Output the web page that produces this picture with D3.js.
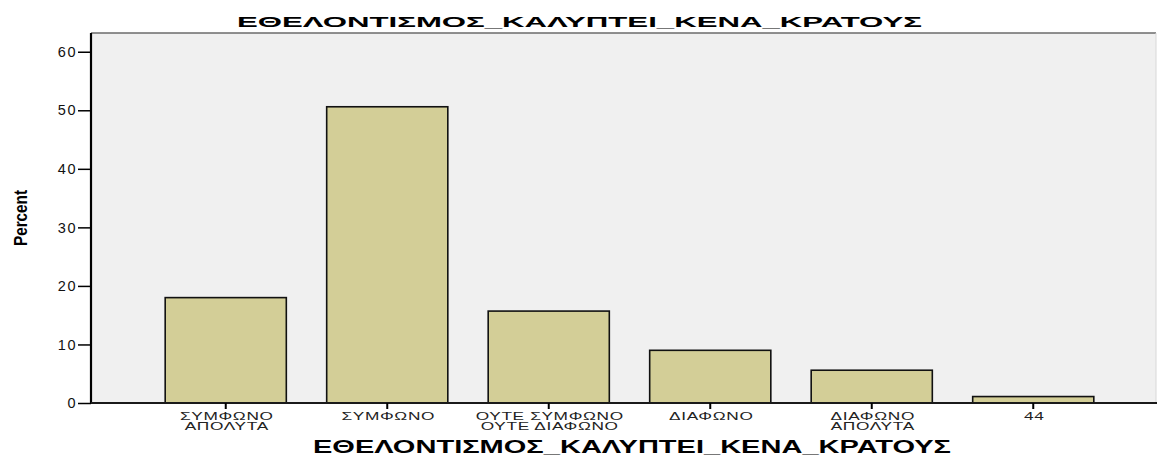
<!DOCTYPE html>
<html>
<head>
<meta charset="utf-8">
<script src="https://cdn.jsdelivr.net/npm/d3@7"></script>
<style>
  body { margin: 0; background: #fff; }
  text { font-family: "Liberation Sans", Arial, sans-serif; }
</style>
</head>
<body>
<svg id="chart" width="1157" height="457"></svg>
<script>
// chart values
const categories = [
    ["ΣΥΜΦΩΝΟ", "ΑΠΟΛΥΤΑ"],
    ["ΣΥΜΦΩΝΟ"],
    ["ΟΥΤΕ ΣΥΜΦΩΝΟ", "ΟΥΤΕ ΔΙΑΦΩΝΟ"],
    ["ΔΙΑΦΩΝΟ"],
    ["ΔΙΑΦΩΝΟ", "ΑΠΟΛΥΤΑ"],
    ["44"]
];
const percents = [18.0, 50.6, 15.7, 9.0, 5.6, 1.1];
const yTicks = [0, 10, 20, 30, 40, 50, 60];
const chartTitle = "ΕΘΕΛΟΝΤΙΣΜΟΣ_ΚΑΛΥΠΤΕΙ_ΚΕΝΑ_ΚΡΑΤΟΥΣ";
const yTitle = "Percent";

let svg = d3.select("#chart");
let plot = {left: 91, right: 1156, top: 33, bottom: 403};

let keys = categories.map((c, i) => i);
let x = d3.scaleBand()
    .domain(keys)
    .range([145, 1114])
    .paddingInner(0.25)
    .paddingOuter(0.125);

let y = d3.scaleLinear()
    .domain([0, 63.2])
    .range([plot.bottom, plot.top]);

// background
svg.append("rect")
    .attr("x", plot.left)
    .attr("y", plot.top)
    .attr("width", plot.right - plot.left)
    .attr("height", plot.bottom - plot.top)
    .attr("fill", "#f0f0f0");

// top and right frame
svg.append("line")
    .attr("x1", plot.left).attr("x2", plot.right)
    .attr("y1", plot.top).attr("y2", plot.top)
    .attr("stroke", "#6b6b6b").attr("stroke-width", 1.5);
svg.append("line")
    .attr("x1", plot.right).attr("x2", plot.right)
    .attr("y1", plot.top).attr("y2", plot.bottom)
    .attr("stroke", "#d8d8d8").attr("stroke-width", 1);

// bars
svg.selectAll(".bar").data(percents).enter().append("rect")
    .attr("class", "bar")
    .attr("x", (d, i) => x(i))
    .attr("y", d => y(d))
    .attr("width", x.bandwidth())
    .attr("height", d => y(0) - y(d))
    .attr("fill", "#d3ce97")
    .attr("stroke", "#111")
    .attr("stroke-width", 1.6);

// y axis
let yAxis = svg.append("g")
    .attr("transform", "translate(" + plot.left + ",0)")
    .call(d3.axisLeft(y).tickValues(yTicks).tickSize(13).tickPadding(1).tickFormat(d3.format("d")));
yAxis.select(".domain").attr("d", "M0," + plot.top + "V" + plot.bottom).attr("stroke", "#000").attr("stroke-width", 2.2);
yAxis.selectAll(".tick line").attr("stroke", "#000").attr("stroke-width", 1.5);
yAxis.selectAll(".tick text")
    .attr("font-size", 14.5)
    .attr("font-family", "'Liberation Sans', Arial, sans-serif")
    .attr("letter-spacing", 1.5)
    .attr("fill", "#111");

// x axis
let xAxis = svg.append("g")
    .attr("transform", "translate(0," + plot.bottom + ")")
    .call(d3.axisBottom(x).tickSize(6).tickFormat(""));
xAxis.select(".domain").attr("d", "M" + plot.left + ",0H" + (plot.right + 1)).attr("stroke", "#1a1a1a").attr("stroke-width", 2);
xAxis.selectAll(".tick line").attr("stroke", "#000").attr("stroke-width", 2);

// SPSS draws these wide, so stretch them horizontally
let labels = xAxis.selectAll(".tick").append("text")
    .attr("fill", "#222")
    .attr("font-size", 10.8)
    .attr("letter-spacing", 0.4)
    .attr("transform", "translate(1,0) scale(1.6,1)")
    .attr("text-anchor", "middle");
labels.selectAll("tspan")
    .data(d => categories[d])
    .enter().append("tspan")
    .attr("x", 0)
    .attr("y", (d, i) => 17 + i * 10.3)
    .text(d => d);

// titles
svg.append("text")
    .attr("x", 579.5)
    .attr("y", 27)
    .attr("text-anchor", "middle")
    .attr("font-size", 15.5)
    .attr("font-weight", "bold")
    .attr("textLength", 685)
    .attr("lengthAdjust", "spacingAndGlyphs")
    .text(chartTitle);

svg.append("text")
    .attr("x", 632)
    .attr("y", 453)
    .attr("text-anchor", "middle")
    .attr("font-size", 17.5)
    .attr("font-weight", "bold")
    .attr("textLength", 638)
    .attr("lengthAdjust", "spacingAndGlyphs")
    .text(chartTitle);

svg.append("text")
    .attr("transform", "translate(27,218) rotate(-90)")
    .attr("text-anchor", "middle")
    .attr("font-size", 19)
    .attr("font-weight", "bold")
    .attr("font-family", "'Liberation Sans Narrow', 'Arial Narrow', sans-serif")
    .attr("textLength", 56)
    .attr("lengthAdjust", "spacingAndGlyphs")
    .text(yTitle);
</script>
</body>
</html>
